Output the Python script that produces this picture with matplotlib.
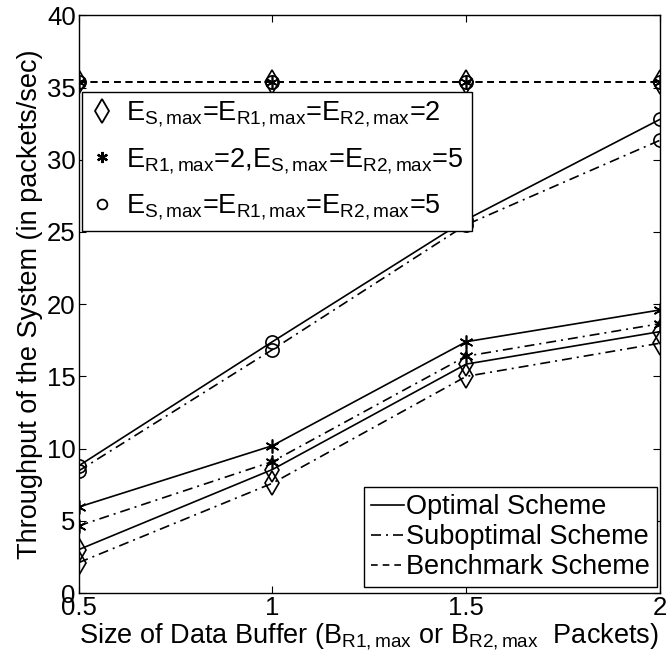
import matplotlib
matplotlib.use("Agg")
import matplotlib.pyplot as plt
from matplotlib.lines import Line2D

plt.rcParams['font.family'] = ['Liberation Sans', 'DejaVu Sans']
plt.rcParams['mathtext.fontset'] = 'custom'
plt.rcParams['mathtext.rm'] = 'Liberation Sans'
plt.rcParams['mathtext.it'] = 'Liberation Sans'
plt.rcParams['mathtext.default'] = 'rm'

buffer_sizes = [0.5, 1.0, 1.5, 2.0]

# E_S=E_R1=E_R2=2 (diamond)
opt_diamond = [3.0, 8.55, 15.85, 18.1]
sub_diamond = [2.1, 7.6, 15.0, 17.3]
# E_R1=2, E_S=E_R2=5 (star)
opt_star = [5.95, 10.2, 17.4, 19.6]
sub_star = [4.65, 9.1, 16.4, 18.65]
# E_S=E_R1=E_R2=5 (circle)
opt_circle = [8.8, 17.4, 25.85, 32.8]
sub_circle = [8.45, 16.85, 25.5, 31.35]
# Benchmark
bench = [35.4, 35.4, 35.4, 35.4]

config_labels = [r'E$_{S,max}$=E$_{R1,max}$=E$_{R2,max}$=2',
                 r'E$_{R1,max}$=2,E$_{S,max}$=E$_{R2,max}$=5',
                 r'E$_{S,max}$=E$_{R1,max}$=E$_{R2,max}$=5']
scheme_labels = ['Optimal Scheme', 'Suboptimal Scheme', 'Benchmark Scheme']

fig = plt.figure(figsize=(6.66, 6.64), dpi=100)
ax = fig.add_axes([0.1179, 0.1069, 0.8731, 0.8700])

star = (6, 2, 0)
dashdot = (0, (6, 3, 1.2, 3))
dashed = (0, (4, 3))
lw = 1.2
mk = dict(markerfacecolor='none', markeredgecolor='black', markeredgewidth=1.2, color='black', linewidth=lw)

series = [
    (opt_diamond, sub_diamond, 'd', 12),
    (opt_star, sub_star, star, 10),
    (opt_circle, sub_circle, 'o', 9.5),
]
for opt, sub, m, ms in series:
    ax.plot(buffer_sizes, opt, linestyle='-', marker=m, markersize=ms, **mk)
    ax.plot(buffer_sizes, sub, linestyle=dashdot, marker=m, markersize=ms, **mk)
    ax.plot(buffer_sizes, bench, linestyle=dashed, marker=m, markersize=ms, **mk)

ax.set_xlim(0.5, 2.0)
ax.set_ylim(0, 40)
ax.set_xticks([0.5, 1.0, 1.5, 2.0])
ax.set_xticklabels(['0.5', '1', '1.5', '2'])
ax.set_yticks(range(0, 41, 5))
ax.tick_params(direction='in', length=5, width=0.8, top=True, right=True, labelsize=18.5, pad=2)
for s in ax.spines.values():
    s.set_linewidth(1.0)

ax.set_xlabel(r'Size of Data Buffer (B$_{R1,max}$ or B$_{R2,max}$  Packets)', fontsize=19.5, labelpad=1)
ax.set_ylabel('Throughput of the System (in packets/sec)', fontsize=19.5, labelpad=3)

# marker legend
mh = [Line2D([], [], linestyle='none', marker='d', markersize=12, markerfacecolor='none',
             markeredgecolor='black', markeredgewidth=1.3),
      Line2D([], [], linestyle='none', marker=star, markersize=8, markeredgecolor='black',
             markeredgewidth=1.6),
      Line2D([], [], linestyle='none', marker='o', markersize=7, markerfacecolor='none',
             markeredgecolor='black', markeredgewidth=1.3)]
leg1 = ax.legend(mh, config_labels, loc='upper left', bbox_to_anchor=(0.0055, 0.868),
                 borderaxespad=0, fontsize=19.5, frameon=True, fancybox=False,
                 edgecolor='black', framealpha=1, handlelength=0.9, handletextpad=0.45,
                 labelspacing=0.62, borderpad=0.3)
leg1.get_frame().set_linewidth(1.0)
ax.add_artist(leg1)

lh = [Line2D([], [], color='black', linestyle='-', linewidth=lw),
      Line2D([], [], color='black', linestyle=dashdot, linewidth=lw),
      Line2D([], [], color='black', linestyle=dashed, linewidth=lw)]
leg2 = ax.legend(lh, scheme_labels, loc='lower right', bbox_to_anchor=(0.9948, 0.0104),
                 borderaxespad=0, fontsize=19.5, frameon=True, fancybox=False,
                 edgecolor='black', framealpha=1, handlelength=1.2, handletextpad=0.1,
                 labelspacing=0.15, borderpad=0.25)
leg2.get_frame().set_linewidth(1.0)

fig.savefig('out.png', dpi=100)
